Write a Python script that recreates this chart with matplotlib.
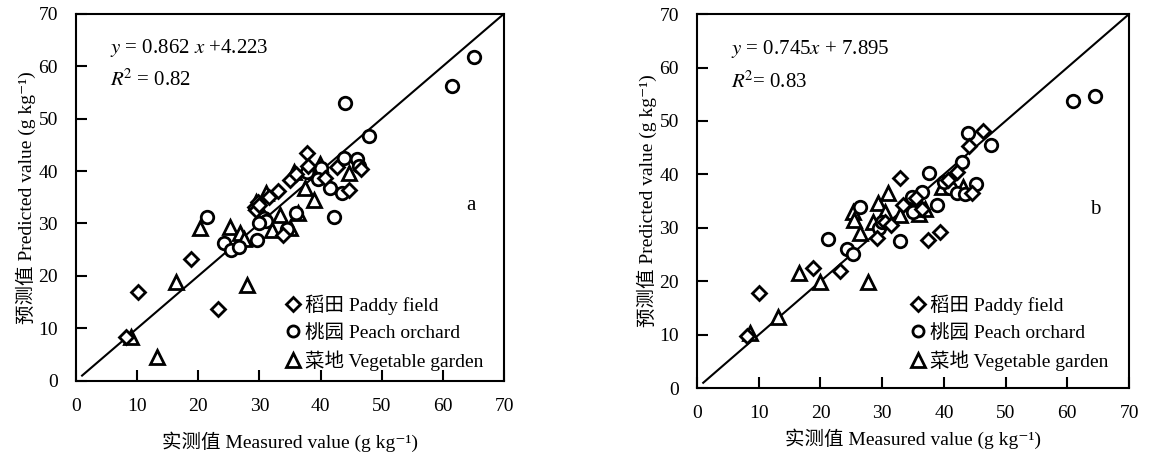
import numpy as np
import matplotlib.pyplot as plt
from matplotlib.lines import Line2D

FONT = ['Liberation Serif', 'Noto Sans CJK SC', 'DejaVu Serif']
plt.rcParams['font.family'] = FONT
plt.rcParams['mathtext.fontset'] = 'stix'

# ---- panel a ----
a_paddy_x = [8.2, 10.1, 18.8, 23.2, 29.3, 29.8, 29.5, 30.0, 33.1, 33.9, 35.0, 37.8,
             40.7, 42.7, 44.7, 46.6, 38.0, 31.5, 36.0]
a_paddy_y = [8.4, 17.0, 23.3, 13.7, 33.2, 34.0, 32.5, 33.5, 36.1, 27.8, 38.3, 43.5,
             38.7, 40.8, 36.4, 40.4, 41.0, 35.0, 39.5]
a_peach_x = [21.4, 24.2, 25.4, 26.7, 29.6, 30.8, 31.0, 34.5, 37.8, 41.5, 42.2, 43.5,
             43.8, 45.9, 46.2, 47.9, 44.0, 61.5, 65.0, 40.0, 39.5, 30.0, 36.0]
a_peach_y = [31.3, 26.3, 25.0, 25.6, 26.9, 31.1, 30.5, 29.0, 39.9, 36.8, 31.3, 35.9,
             42.5, 42.3, 41.0, 46.7, 53.0, 56.3, 61.8, 40.5, 38.5, 30.0, 32.0]
a_veg_x = [9.0, 13.2, 16.4, 20.3, 25.2, 26.8, 28.0, 27.5, 31.1, 32.1, 33.4, 35.0,
           35.7, 36.3, 37.5, 38.9, 39.9, 44.7, 30.5, 29.5]
a_veg_y = [8.4, 4.6, 18.9, 29.2, 29.4, 28.2, 18.3, 27.0, 35.9, 28.8, 31.7, 29.2,
           39.9, 32.0, 36.8, 34.5, 41.4, 39.6, 31.5, 34.0]

# ---- panel b ----
b_paddy_x = [8.1, 10.0, 18.8, 23.2, 29.2, 32.9, 33.4, 37.4, 39.4, 40.7, 42.1, 44.1,
             46.4, 30.5, 35.5, 36.5, 44.5, 31.5]
b_paddy_y = [9.7, 17.8, 22.5, 21.9, 28.1, 39.3, 34.3, 27.7, 29.2, 38.9, 40.4, 45.3,
             48.1, 31.0, 35.5, 33.5, 36.5, 30.5]
b_peach_x = [21.2, 24.3, 25.3, 26.4, 29.5, 32.9, 34.8, 36.5, 37.6, 38.9, 41.0, 42.1,
             42.9, 43.4, 43.9, 45.2, 47.6, 60.9, 64.5, 30.0, 35.0, 40.0]
b_peach_y = [27.9, 26.0, 25.1, 33.9, 30.0, 27.5, 35.8, 36.7, 40.2, 34.3, 37.5, 36.5,
             42.3, 36.3, 47.8, 38.2, 45.5, 53.8, 54.7, 31.0, 33.0, 38.5]
b_veg_x = [8.6, 13.1, 16.5, 19.9, 25.3, 26.4, 27.7, 29.3, 31.0, 32.9, 34.5, 39.7,
           43.1, 28.5, 30.5, 36.0, 37.0, 25.5]
b_veg_y = [10.3, 13.3, 21.5, 19.9, 33.0, 29.0, 19.9, 34.6, 36.5, 32.4, 34.6, 37.6,
           37.6, 31.0, 33.0, 32.5, 33.5, 31.5]

ticks = [0, 10, 20, 30, 40, 50, 60, 70]
labels = ['稻田 Paddy field', '桃园 Peach orchard', '菜地 Vegetable garden']
equations = [(r'$y$ = 0.862 $x$ +4.223', r'$R$$^2$ = 0.82', 'a'),
             (r'$y$ = 0.745$x$ + 7.895', r'$R$$^2$= 0.83', 'b')]
xlabel = '实测值 Measured value (g kg⁻¹)'
ylabel = '预测值 Predicted value (g kg⁻¹)'

fig = plt.figure(figsize=(11.51, 4.55), dpi=100)
ax_a = fig.add_axes([0.066, 0.163, 0.372, 0.807])
ax_b = fig.add_axes([0.6056, 0.147, 0.3753, 0.822])

panels = [
    (ax_a, (a_paddy_x, a_paddy_y), (a_peach_x, a_peach_y), (a_veg_x, a_veg_y), (0.46, -0.01), 12),
    (ax_b, (b_paddy_x, b_paddy_y), (b_peach_x, b_peach_y), (b_veg_x, b_veg_y), (0.465, 0.01), 5),
]

mk = dict(ls='none', mfc='white', mec='black', mew=2)

for k, (ax, pd_, pc_, vg_, leg_pos, xpad) in enumerate(panels):
    ax.plot([1, 70], [1, 70], color='black', lw=1.5, zorder=1)
    ax.plot(*vg_, marker='^', ms=10, **mk, zorder=2)
    ax.plot(*pc_, marker='o', ms=9, **mk, zorder=3)
    ax.plot(*pd_, marker='D', ms=7, **mk, zorder=4)

    ax.set_xlim(0, 70)
    ax.set_ylim(0, 70)
    ax.set_xticks(ticks)
    ax.set_yticks(ticks)
    ax.tick_params(direction='in', length=8, width=1.5, labelsize=14)
    ax.tick_params(axis='x', pad=12)
    ax.tick_params(axis='y', pad=13)
    for s in ax.spines.values():
        s.set_linewidth(1.5)
    ax.set_xlabel(xlabel, fontsize=14, labelpad=xpad)
    ax.set_ylabel(ylabel, fontsize=14, labelpad=2)

    eq, r2, tag = equations[k]
    ax.text(5.5, 63.5, eq, fontsize=15, va='center')
    ax.text(5.5, 57.3, r2, fontsize=15, va='center')
    ax.text(64.5, 33.5, tag, fontsize=15, va='center', ha='center')

    handles = [
        Line2D([], [], marker='D', ms=7, **mk),
        Line2D([], [], marker='o', ms=8, **mk),
        Line2D([], [], marker='^', ms=10, **mk),
    ]
    ax.legend(handles, labels, loc='lower left', bbox_to_anchor=leg_pos,
              frameon=False, fontsize=14, handlelength=0.7, handletextpad=0.25,
              labelspacing=0.45, borderpad=0.2)

fig.savefig('out.png', dpi=100)
